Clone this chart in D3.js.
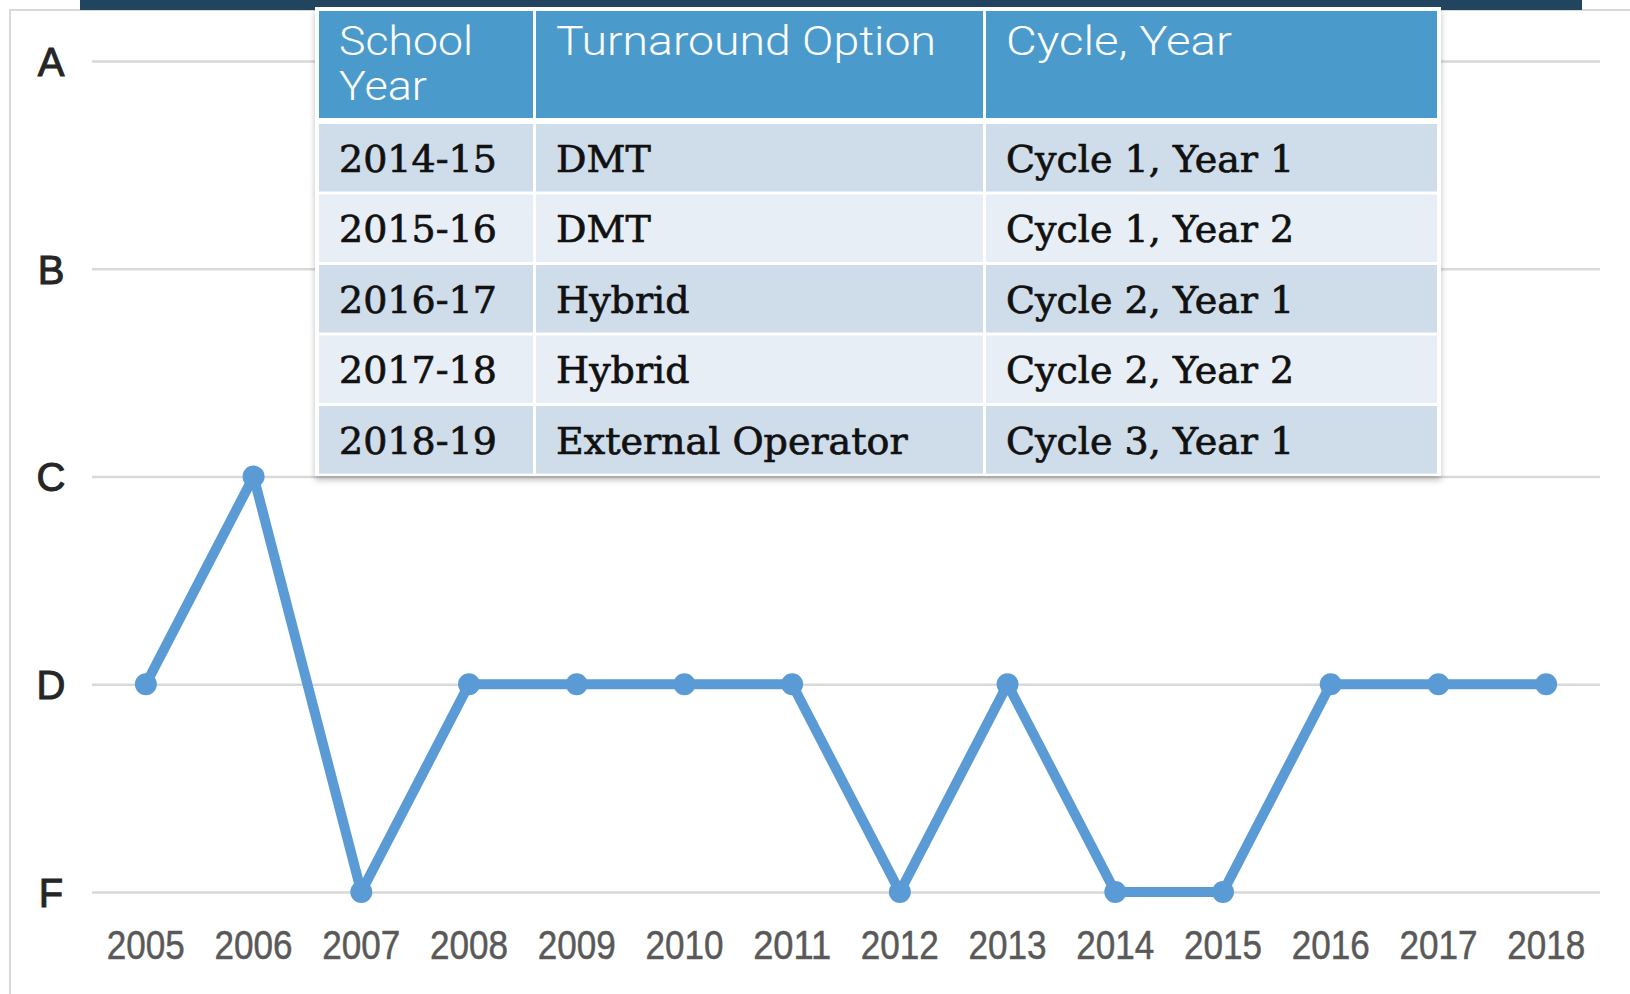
<!DOCTYPE html>
<html>
<head>
<meta charset="utf-8">
<script src="https://cdn.jsdelivr.net/npm/d3@7"></script>
<style>
  body { margin: 0; background: #fff; }
  svg { display: block; }
</style>
</head>
<body>
<div id="container"></div>
<script>
// chart data
var years = ['2005', '2006', '2007', '2008', '2009', '2010', '2011', '2012', '2013', '2014', '2015', '2016', '2017', '2018'];
var grades = ['D', 'C', 'F', 'D', 'D', 'D', 'D', 'F', 'D', 'F', 'F', 'D', 'D', 'D'];
var gradeScale = ['A', 'B', 'C', 'D', 'F'];

// table data
var headers = ['School Year', 'Turnaround Option', 'Cycle, Year'];
var schoolYears = ['2014-15', '2015-16', '2016-17', '2017-18', '2018-19'];
var options = ['DMT', 'DMT', 'Hybrid', 'Hybrid', 'External Operator'];
var cycles = ['Cycle 1, Year 1', 'Cycle 1, Year 2', 'Cycle 2, Year 1', 'Cycle 2, Year 2', 'Cycle 3, Year 1'];

var width = 1630, height = 994;
var plotL = 92, plotR = 1600, plotT = 61, plotB = 892;

var svg = d3.select('#container').append('svg').attr('width', width).attr('height', height);

var defs = svg.append('defs');
var f = defs.append('filter').attr('id', 'shadow').attr('x', '-5%').attr('y', '-5%').attr('width', '110%').attr('height', '115%');
f.append('feDropShadow').attr('dx', 0).attr('dy', 4).attr('stdDeviation', 3).attr('flood-color', '#000').attr('flood-opacity', 0.25);

// chart frame and top bar
svg.append('rect').attr('x', 10).attr('y', 10).attr('width', 1660).attr('height', 1000)
    .attr('fill', '#fff').attr('stroke', '#d9d9d9').attr('stroke-width', 2);
svg.append('rect').attr('x', 80).attr('y', 0).attr('width', 1502).attr('height', 10).attr('fill', '#22455f');

var x = d3.scaleBand().domain(years).range([plotL, plotR]);
var y = d3.scalePoint().domain(gradeScale).range([plotT, plotB]);
var bw = x.bandwidth();

// gridlines + grade labels
var yAxis = d3.axisLeft(y).tickSize(-(plotR - plotL)).tickPadding(0);
var gy = svg.append('g').attr('transform', 'translate(' + plotL + ',0)').call(yAxis);
gy.select('.domain').remove();
gy.selectAll('.tick line').attr('stroke', '#d9d9d9').attr('stroke-width', 2.5);
gy.selectAll('.tick text').attr('x', -41).attr('dy', '0.36em').attr('text-anchor', 'middle')
    .attr('font-family', 'Liberation Sans, Arial, sans-serif').attr('font-size', 40).attr('fill', '#262626')
    .attr('stroke', '#262626').attr('stroke-width', 1);

// year labels
var xAxis = d3.axisBottom(x).tickSize(0).tickPadding(0);
var gx = svg.append('g').attr('transform', 'translate(0,' + plotB + ')').call(xAxis);
gx.select('.domain').remove();
gx.selectAll('.tick text').attr('y', 53).attr('dy', '0.36em')
    .attr('font-family', 'Liberation Sans, Arial, sans-serif').attr('font-size', 40).attr('fill', '#595959')
    .attr('stroke', '#595959').attr('stroke-width', 0.5)
    .attr('textLength', 78).attr('lengthAdjust', 'spacingAndGlyphs');

// grade line
var pts = years.map(function (d, i) { return { year: d, grade: grades[i] }; });
var line = d3.line()
    .x(function (d) { return x(d.year) + bw / 2; })
    .y(function (d) { return y(d.grade); });
svg.append('path').datum(pts).attr('d', line).attr('fill', 'none')
    .attr('stroke', '#5b9bd5').attr('stroke-width', 10).attr('stroke-linejoin', 'round');
svg.selectAll('.dot').data(pts).enter().append('circle').attr('class', 'dot')
    .attr('cx', function (d) { return x(d.year) + bw / 2; })
    .attr('cy', function (d) { return y(d.grade); })
    .attr('r', 11).attr('fill', '#5b9bd5');

// table overlay
var colX = [319, 536, 986], colW = [214, 447, 451];
var headTop = 11, headH = 107, rowTop = 124, rowH = 67.5, rowGap = 3;
var tbl = svg.append('g');
tbl.append('rect').attr('x', 315).attr('y', 7).attr('width', 1126).attr('height', 469)
    .attr('fill', '#fff').attr('filter', 'url(#shadow)');

headers.forEach(function (h, c) {
    tbl.append('rect').attr('x', colX[c]).attr('y', headTop).attr('width', colW[c]).attr('height', headH).attr('fill', '#4a9bcc');
});
var headLines = [['School', 'Year'], ['Turnaround Option'], ['Cycle, Year']];
var headLens = [[134, 88], [380], [226]];
headLines.forEach(function (lines, c) {
    lines.forEach(function (t, k) {
        tbl.append('text').attr('x', colX[c] + 20).attr('y', 55 + k * 45).text(t)
            .attr('font-family', 'Roboto, sans-serif').attr('font-weight', 300).attr('font-size', 40)
            .attr('fill', '#fff').attr('textLength', headLens[c][k]).attr('lengthAdjust', 'spacingAndGlyphs');
    });
});

var cols = [schoolYears, options, cycles];
schoolYears.forEach(function (d, r) {
    var ry = rowTop + r * (rowH + rowGap);
    cols.forEach(function (arr, c) {
        tbl.append('rect').attr('x', colX[c]).attr('y', ry).attr('width', colW[c]).attr('height', rowH)
            .attr('fill', r % 2 === 0 ? '#cfdcea' : '#e8eef6');
        tbl.append('text').attr('x', colX[c] + 20).attr('y', ry + rowH / 2 + 14).text(arr[r])
            .attr('font-family', 'DejaVu Serif, serif').attr('font-size', 38).attr('fill', '#111')
            .attr('stroke', '#111').attr('stroke-width', 0.7);
    });
});
</script>
</body>
</html>
